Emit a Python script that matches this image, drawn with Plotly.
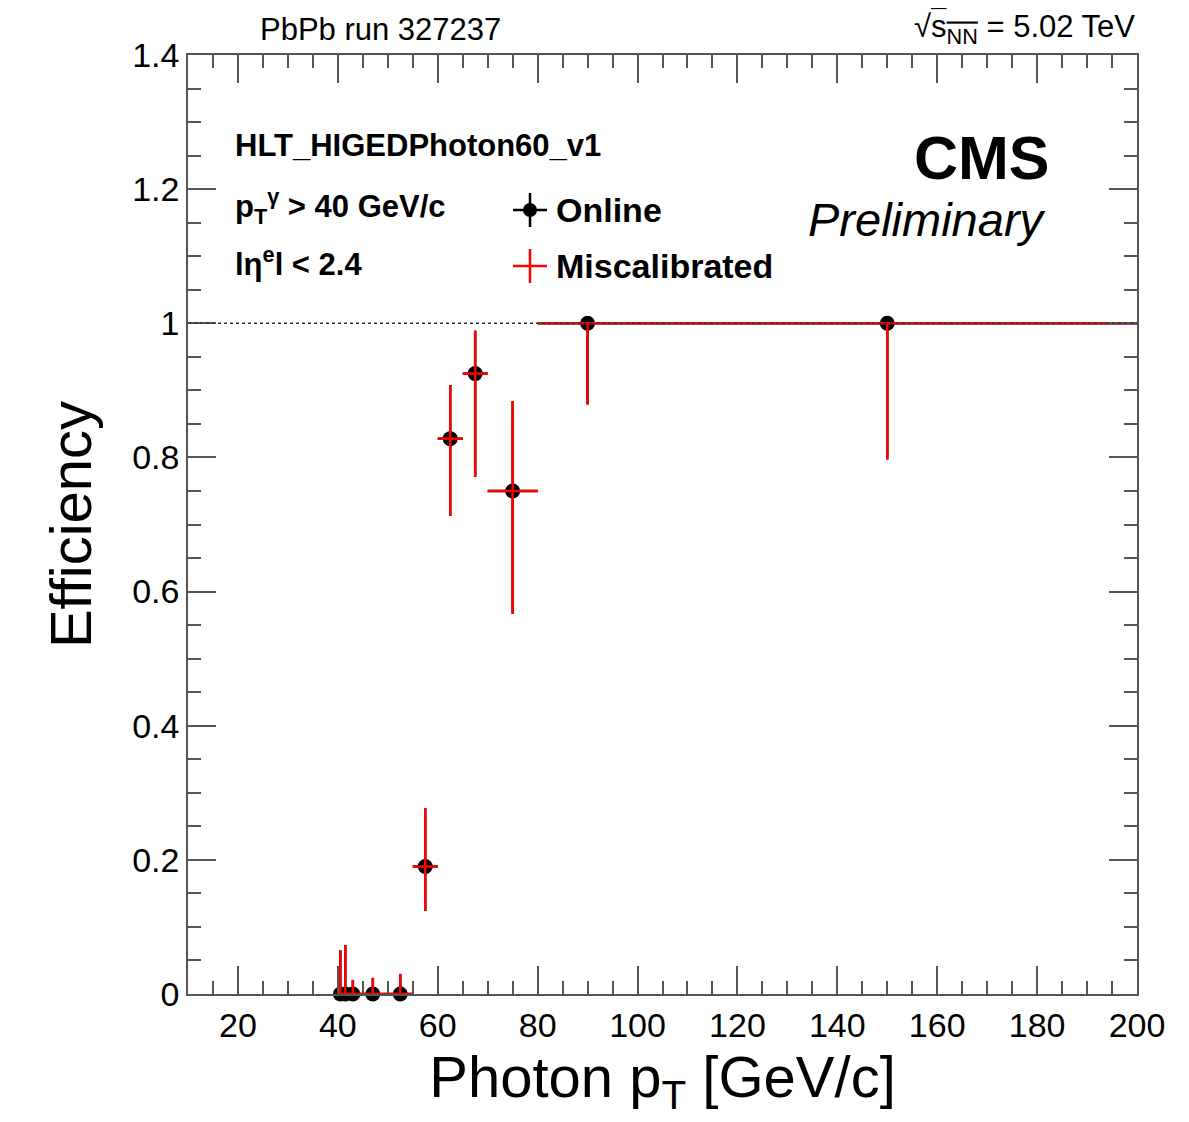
import plotly.graph_objects as go

# ---- data ----
pt_center = [40.5, 41.5, 43, 47, 52.5, 57.5, 62.5, 67.5, 75, 90, 150]
pt_halfwidth = [0.5, 0.5, 1, 3, 2.5, 2.5, 2.5, 2.5, 5, 10, 50]
eff_online = [0, 0, 0, 0, 0, 0.19, 0.828, 0.925, 0.75, 1, 1]
eff_miscal = [0, 0, 0, 0, 0, 0.19, 0.828, 0.925, 0.75, 1, 1]
err_up = [0.065, 0.073, 0.021, 0.024, 0.030, 0.087, 0.080, 0.064, 0.134, 0, 0]
err_down = [0, 0, 0, 0, 0, 0.066, 0.115, 0.154, 0.183, 0.121, 0.203]

FONT = "Liberation Sans, Arial, Helvetica, sans-serif"

# page body has an 8px margin; compensate so that the plot area lands at
# x 188..1137 and y 55..994 in the window
OFF = 8
W, H = 1189 - OFF, 1122 - OFF
L, R, T, B = 188 - OFF, 52, 55 - OFF, 128

fig = go.Figure()

fig.add_trace(go.Scatter(
    x=pt_center, y=eff_online, mode="markers", name="Online",
    marker=dict(color="black", size=15, symbol="circle"),
    error_y=dict(type="data", array=err_up, arrayminus=err_down, color="black", thickness=2.5, width=0),
    error_x=dict(type="data", array=pt_halfwidth, arrayminus=pt_halfwidth, color="black", thickness=2.5, width=0),
    showlegend=False, cliponaxis=False,
))
fig.add_trace(go.Scatter(
    x=pt_center, y=eff_miscal, mode="markers", name="Miscalibrated",
    marker=dict(color="red", size=1, opacity=0),
    error_y=dict(type="data", array=err_up, arrayminus=err_down, color="red", thickness=2.5, width=0),
    error_x=dict(type="data", array=pt_halfwidth, arrayminus=pt_halfwidth, color="red", thickness=2.5, width=0),
    showlegend=False, cliponaxis=False,
))

# reference line at efficiency = 1
fig.add_shape(type="line", xref="x", yref="y", x0=10, x1=200, y0=1, y1=1,
              line=dict(color="#333333", width=1.5, dash="3px,3px"), layer="above")

axis_common = dict(
    showline=True, linecolor="#555555", linewidth=1.5, mirror="allticks",
    ticks="inside", tickcolor="#555555", tickwidth=1.5, ticklen=28,
    showgrid=False, zeroline=False,
    tickfont=dict(family=FONT, size=34, color="black"),
)

fig.update_xaxes(range=[10, 200], tick0=0, dtick=20,
                 minor=dict(dtick=5, ticklen=13, ticks="inside", tickcolor="#555555", tickwidth=1.5, showgrid=False),
                 title=dict(text="Photon p<sub>T</sub> [GeV/c]", font=dict(family=FONT, size=58, color="black"), standoff=14),
                 **axis_common)
fig.update_yaxes(range=[0, 1.4], tick0=0, dtick=0.2,
                 minor=dict(dtick=0.05, ticklen=13, ticks="inside", tickcolor="#555555", tickwidth=1.5, showgrid=False),
                 title=dict(text="Efficiency", font=dict(family=FONT, size=58, color="black"), standoff=22),
                 **axis_common)

# legend drawn manually (paper coordinates), positions given in window pixels
def px2paper_x(px):
    return (px - 188) / (1137 - 188)

def px2paper_y(py):
    return (994 - py) / (994 - 55)

lx = px2paper_x(530)
for py, col in [(210, "black"), (266, "red")]:
    y = px2paper_y(py)
    fig.add_shape(type="line", xref="paper", yref="paper",
                  x0=px2paper_x(513), x1=px2paper_x(547), y0=y, y1=y,
                  line=dict(color=col, width=2.5))
    fig.add_shape(type="line", xref="paper", yref="paper",
                  x0=lx, x1=lx, y0=px2paper_y(py - 17), y1=px2paper_y(py + 17),
                  line=dict(color=col, width=2.5))
fig.add_shape(type="circle", xref="paper", yref="paper",
              x0=px2paper_x(523), x1=px2paper_x(537), y0=px2paper_y(217), y1=px2paper_y(203),
              fillcolor="black", line=dict(color="black", width=0))

def ann(text, x, y, size, xanchor="left", bold=False, italic=False):
    t = text
    if bold:
        t = "<b>" + t + "</b>"
    if italic:
        t = "<i>" + t + "</i>"
    fig.add_annotation(text=t, xref="paper", yref="paper", x=px2paper_x(x), y=px2paper_y(y),
                       xanchor=xanchor, yanchor="middle", showarrow=False,
                       font=dict(family=FONT, size=size, color="black"))

ann("Online", 554, 210, 34, bold=True)
ann("Miscalibrated", 554, 266, 34, bold=True)
ann("HLT_HIGEDPhoton60_v1", 233, 146, 31, bold=True)
ann("p<sub>T</sub><sup>γ</sup> &gt; 40 GeV/c", 233, 207, 31, bold=True)
ann("lη<sup>e</sup>l &lt; 2.4", 233, 262, 31, bold=True)
ann("CMS", 1052, 158, 61, xanchor="right", bold=True)
ann("Preliminary", 1048, 220, 47, xanchor="right", italic=True)
ann("PbPb run 327237", 258, 29, 31)
ann("√<span style='text-decoration:overline'>s<sub>NN</sub></span> = 5.02 TeV", 1137, 29, 31, xanchor="right")

fig.update_layout(
    width=W, height=H,
    margin=dict(l=L, r=R, t=T, b=B, autoexpand=False),
    paper_bgcolor="white", plot_bgcolor="white",
    font=dict(family=FONT, color="black"),
    showlegend=False,
)

fig.write_html("out.html")
